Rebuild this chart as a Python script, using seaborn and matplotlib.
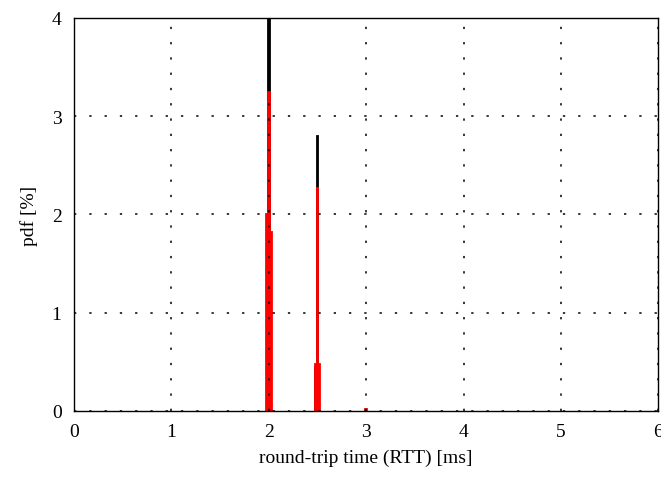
import matplotlib
matplotlib.use("Agg")
import matplotlib.pyplot as plt
import seaborn as sns
import pandas as pd

# RTT histogram bins (ms) and pdf values (%)
black_rtt = [2.00, 2.48, 2.50]
black_pdf = [4.30, 0.45, 2.80]

red_rtt = [1.98, 2.00, 2.02, 2.48, 2.50, 2.52, 3.00]
red_pdf = [2.00, 3.25, 1.82, 0.48, 2.27, 0.48, 0.02]

x_ticks = [0, 1, 2, 3, 4, 5, 6]
y_ticks = [0, 1, 2, 3, 4]

sns.set_theme(style="white")
plt.rcParams['font.family'] = ['Liberation Serif', 'DejaVu Serif']

fig = plt.figure(figsize=(6.61, 4.81), dpi=100)
ax = fig.add_axes([0.112, 0.1435, 0.884, 0.817])

bw = 0.02
df_b = pd.DataFrame({"rtt": black_rtt, "pdf": black_pdf})
df_r = pd.DataFrame({"rtt": red_rtt, "pdf": red_pdf})
sns.histplot(data=df_b, x="rtt", weights="pdf", binwidth=bw, binrange=(-0.01, 6.01),
             color="black", edgecolor="black", alpha=1, linewidth=1.3, ax=ax)
sns.histplot(data=df_r, x="rtt", weights="pdf", binwidth=bw, binrange=(-0.01, 6.01),
             color="red", edgecolor="red", alpha=1, linewidth=1.3, ax=ax)
# hide empty bins so they do not paint the baseline
for p in ax.patches:
    if p.get_height() == 0:
        p.set_visible(False)

ax.set_xlim(0, 6)
ax.set_ylim(0, 4)
ax.set_xticks(x_ticks)
ax.set_yticks(y_ticks)
ax.grid(True, color="black", linestyle=(0, (1.5, 8.5)), linewidth=1.1)
ax.set_axisbelow(False)
for s in ax.spines.values():
    s.set_visible(True)
    s.set_color("black")
    s.set_linewidth(1.0)
    s.set_zorder(5)
ax.tick_params(axis="both", length=0, labelsize=14, colors="black", pad=9)
ax.set_xlabel("round-trip time (RTT) [ms]", fontsize=14, color="black", labelpad=6)
ax.set_ylabel("pdf [%]", fontsize=14, color="black", labelpad=10)

fig.savefig("out.png", dpi=100)
